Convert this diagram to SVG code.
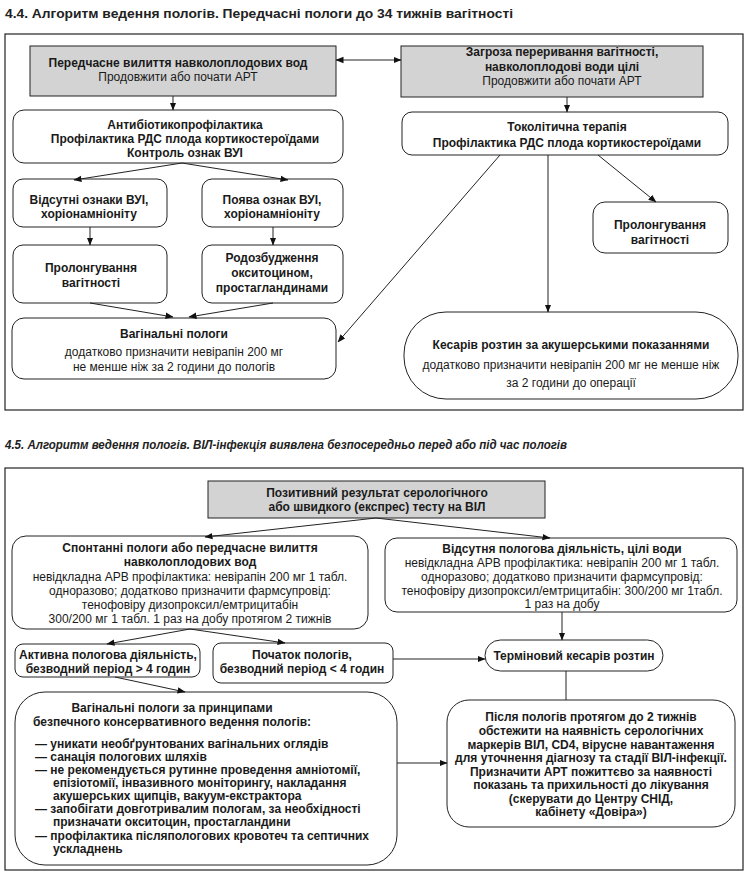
<svg xmlns="http://www.w3.org/2000/svg" width="750" height="889" viewBox="0 0 750 889">
<defs>
<style>
.frame{fill:none;stroke:#222;stroke-width:1.2}
.gray{fill:#d3d3d3;stroke:#222;stroke-width:1}
.box{fill:#fff;stroke:#222;stroke-width:1}
.b{font-family:"Liberation Sans",Arial,sans-serif;font-weight:bold;font-size:12px;fill:#1a1a1a;text-anchor:middle}
.r{font-family:"Liberation Sans",Arial,sans-serif;font-size:12px;fill:#1a1a1a;text-anchor:middle}
.bl{font-family:"Liberation Sans",Arial,sans-serif;font-weight:bold;font-size:12px;fill:#1a1a1a}
.t1{font-family:"Liberation Sans",Arial,sans-serif;font-weight:bold;font-size:13px;fill:#222}
.t2{font-family:"Liberation Sans Narrow","Liberation Sans",Arial,sans-serif;font-weight:bold;font-style:italic;font-size:12px;fill:#222}
.c{fill:none;stroke:#222;stroke-width:1}
</style>
<marker id="ah" markerWidth="8" markerHeight="8" refX="7.5" refY="4" orient="auto-start-reverse" markerUnits="userSpaceOnUse">
<path d="M0,0.8 L8,4 L0,7.2 z" fill="#111"/>
</marker>
</defs>
<rect width="750" height="889" fill="#fff"/>

<text class="t1" x="5" y="18" textLength="508" lengthAdjust="spacingAndGlyphs">4.4. Алгоритм ведення пологів. Передчасні пологи до 34 тижнів вагітності</text>
<rect class="frame" x="5" y="34" width="738" height="376"/>

<g id="nA">
<rect class="gray" x="30" y="46" width="306" height="50"/>
<text class="b" x="178" y="67">Передчасне вилиття навколоплодових вод</text>
<text class="r" x="178" y="81">Продовжити або почати АРТ</text>
</g>
<g id="nB">
<rect class="gray" x="401" y="46" width="302" height="51"/>
<text class="b" x="562" y="56">Загроза переривання вагітності,</text>
<text class="b" x="562" y="71">навколоплодові води цілі</text>
<text class="r" x="562" y="85">Продовжити або почати АРТ</text>
</g>
<g id="nC">
<rect class="box" x="13" y="110" width="330" height="53" rx="11"/>
<text class="b" x="185" y="129">Антибіотикопрофілактика</text>
<text class="b" x="185" y="143">Профілактика РДС плода кортикостероїдами</text>
<text class="b" x="185" y="157">Контроль ознак ВУІ</text>
</g>
<g id="nD">
<rect class="box" x="13" y="179" width="154" height="48" rx="10"/>
<text class="b" x="89" y="204">Відсутні ознаки ВУІ,</text>
<text class="b" x="89" y="218">хоріонамніоніту</text>
</g>
<g id="nE">
<rect class="box" x="202" y="179" width="141" height="48" rx="10"/>
<text class="b" x="272" y="204">Поява ознак ВУІ,</text>
<text class="b" x="272" y="218">хоріонамніоніту</text>
</g>
<g id="nF">
<rect class="box" x="13" y="245" width="154" height="58" rx="10"/>
<text class="b" x="91" y="272">Пролонгування</text>
<text class="b" x="91" y="287">вагітності</text>
</g>
<g id="nG">
<rect class="box" x="202" y="245" width="141" height="58" rx="10"/>
<text class="b" x="272" y="262">Родозбудження</text>
<text class="b" x="272" y="277">окситоцином,</text>
<text class="b" x="272" y="292">простагландинами</text>
</g>
<g id="nH">
<rect class="box" x="12" y="318" width="324" height="61" rx="12"/>
<text class="b" x="174" y="338">Вагінальні пологи</text>
<text class="r" x="174" y="356">додатково призначити невірапін 200 мг</text>
<text class="r" x="174" y="371">не менше ніж за 2 години до пологів</text>
</g>
<g id="nI">
<rect class="box" x="402" y="112" width="326" height="43" rx="10"/>
<text class="b" x="567" y="131">Токолітична терапія</text>
<text class="b" x="567" y="147">Профілактика РДС плода кортикостероїдами</text>
</g>
<g id="nJ">
<rect class="box" x="593" y="202" width="135" height="51" rx="12"/>
<text class="b" x="660" y="229">Пролонгування</text>
<text class="b" x="660" y="244">вагітності</text>
</g>
<g id="nK">
<rect class="box" x="404" y="312" width="334" height="87" rx="42"/>
<text class="b" x="571" y="349">Кесарів розтин за акушерськими показаннями</text>
<text class="r" x="571" y="369">додатково призначити невірапін 200 мг не менше ніж</text>
<text class="r" x="571" y="387">за 2 години до операції</text>
</g>

<text class="t2" x="5" y="449" textLength="562" lengthAdjust="spacingAndGlyphs">4.5. Алгоритм ведення пологів. ВІЛ-інфекція виявлена безпосередньо перед або під час пологів</text>
<rect class="frame" x="5" y="468" width="738" height="402"/>

<g id="nL">
<rect class="gray" x="208" y="481" width="337" height="37"/>
<text class="b" x="377" y="497">Позитивний результат серологічного</text>
<text class="b" x="377" y="511">або швидкого (експрес) тесту на ВІЛ</text>
</g>
<g id="nM">
<rect class="box" x="12" y="536" width="356" height="93" rx="14"/>
<text class="b" x="190" y="552">Спонтанні пологи або передчасне вилиття</text>
<text class="b" x="190" y="566">навколоплодових вод</text>
<text class="r" x="190" y="581">невідкладна АРВ профілактика: невірапін 200 мг 1 табл.</text>
<text class="r" x="190" y="595">одноразово; додатково призначити фармсупровід:</text>
<text class="r" x="190" y="609">тенофовіру дизопроксил/емтрицитабін</text>
<text class="r" x="190" y="623">300/200 мг 1 табл. 1 раз на добу протягом 2 тижнів</text>
</g>
<g id="nN">
<rect class="box" x="385" y="538" width="352" height="74" rx="12"/>
<text class="b" x="562" y="553">Відсутня пологова діяльність, цілі води</text>
<text class="r" x="562" y="567">невідкладна АРВ профілактика: невірапін 200 мг 1 табл.</text>
<text class="r" x="562" y="581">одноразово; додатково призначити фармсупровід:</text>
<text class="r" x="562" y="595">тенофовіру дизопроксил/емтрицитабін: 300/200 мг 1табл.</text>
<text class="r" x="562" y="608">1 раз на добу</text>
</g>
<g id="nO">
<rect class="box" x="485" y="640" width="178" height="31" rx="15.5"/>
<text class="b" x="574" y="660">Терміновий кесарів розтин</text>
</g>
<g id="nP">
<rect class="box" x="15" y="644" width="185" height="33" rx="8"/>
<text class="b" x="108" y="659">Активна пологова діяльність,</text>
<text class="b" x="108" y="673">безводний період &gt; 4 годин</text>
</g>
<g id="nQ">
<rect class="box" x="213" y="643" width="180" height="40" rx="8"/>
<text class="b" x="302" y="659">Початок пологів,</text>
<text class="b" x="302" y="673">безводний період &lt; 4 годин</text>
</g>
<g id="nR">
<rect class="box" x="15" y="692" width="382" height="173" rx="30"/>
<text class="b" x="172" y="712">Вагінальні пологи за принципами</text>
<text class="b" x="172" y="726">безпечного консервативного ведення пологів:</text>
<text class="bl" x="35" y="748">— уникати необґрунтованих вагінальних оглядів</text>
<text class="bl" x="35" y="761">— санація пологових шляхів</text>
<text class="bl" x="35" y="774">— не рекомендується рутинне проведення амніотомії,</text>
<text class="bl" x="53" y="787">епізіотомії, інвазивного моніторингу, накладання</text>
<text class="bl" x="53" y="800">акушерських щипців, вакуум-екстрактора</text>
<text class="bl" x="35" y="813">— запобігати довготривалим пологам, за необхідності</text>
<text class="bl" x="53" y="826">призначати окситоцин, простагландини</text>
<text class="bl" x="35" y="840">— профілактика післяпологових кровотеч та септичних</text>
<text class="bl" x="53" y="853">ускладнень</text>
</g>
<g id="nS">
<rect class="box" x="447" y="700" width="288" height="127" rx="22"/>
<text class="b" x="591" y="721">Після пологів протягом до 2 тижнів</text>
<text class="b" x="591" y="735">обстежити на наявність серологічних</text>
<text class="b" x="591" y="749">маркерів ВІЛ, CD4, вірусне навантаження</text>
<text class="b" x="591" y="762">для уточнення діагнозу та стадії ВІЛ-інфекції.</text>
<text class="b" x="591" y="776">Призначити АРТ пожиттєво за наявності</text>
<text class="b" x="591" y="789">показань та прихильності до лікування</text>
<text class="b" x="591" y="803">(скерувати до Центру СНІД,</text>
<text class="b" x="591" y="816">кабінету «Довіра»)</text>
</g>

<g id="connectors">
<path class="c" d="M336,60 H401" marker-start="url(#ah)" marker-end="url(#ah)"/>
<path class="c" d="M173,96 V110" marker-end="url(#ah)"/>
<path class="c" d="M567,97 V112" marker-end="url(#ah)"/>
<path class="c" d="M182,163 L74,180" marker-end="url(#ah)"/>
<path class="c" d="M182,163 L288,180" marker-end="url(#ah)"/>
<path class="c" d="M90,227 V245" marker-end="url(#ah)"/>
<path class="c" d="M273,227 V245" marker-end="url(#ah)"/>
<path class="c" d="M90,303 L173,317" marker-end="url(#ah)"/>
<path class="c" d="M273,303 L189,317" marker-end="url(#ah)"/>
<path class="c" d="M500,155 L338,342" marker-end="url(#ah)"/>
<path class="c" d="M548,155 V312" marker-end="url(#ah)"/>
<path class="c" d="M598,155 L656,202" marker-end="url(#ah)"/>
<path class="c" d="M376,518 L205,537" marker-end="url(#ah)"/>
<path class="c" d="M376,518 L550,538" marker-end="url(#ah)"/>
<path class="c" d="M562,612 V640" marker-end="url(#ah)"/>
<path class="c" d="M190,629 L107,644" marker-end="url(#ah)"/>
<path class="c" d="M190,629 L285,643" marker-end="url(#ah)"/>
<path class="c" d="M393,659 H485" marker-end="url(#ah)"/>
<path class="c" d="M115,677 L185,692" marker-end="url(#ah)"/>
<path class="c" d="M566,671 V700"/>
<path class="c" d="M397,763 H447" marker-end="url(#ah)"/>
</g>
</svg>
